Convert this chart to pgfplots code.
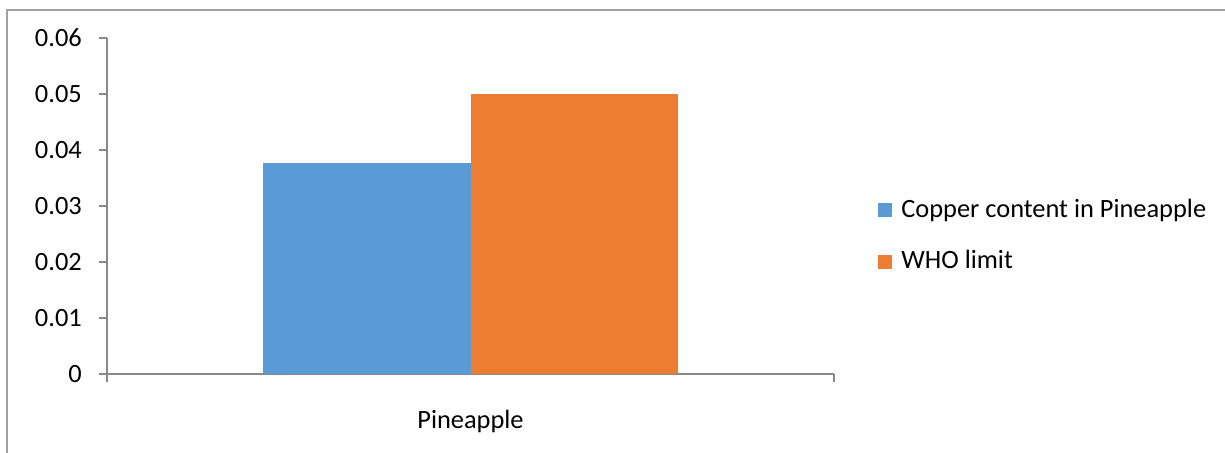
\documentclass[border=0pt]{standalone}
\usepackage{pgfplots}
\pgfplotsset{compat=1.18}
\usepackage{fontspec}
\setmainfont{Carlito}
\definecolor{xlblue}{HTML}{5B9BD5}
\definecolor{xlorange}{HTML}{ED7D31}
\definecolor{axgray}{HTML}{898989}
\definecolor{frgray}{HTML}{A0A0A0}
\begin{document}
\fontsize{13.2pt}{15.8pt}\selectfont
\begin{tikzpicture}
\useasboundingbox (0,0) rectangle (612.5pt,226pt);
\draw[frgray, line width=0.8pt] (3.5pt,-1pt) -- (3.5pt,221pt) -- (614pt,221pt);
\begin{axis}[
  at={(53.5pt,39pt)}, anchor=south west,
  scale only axis, width=363.5pt, height=168pt,
  xmin=-0.5, xmax=0.5, ymin=0, ymax=0.06,
  axis x line=bottom, axis y line=left,
  axis line style={-, draw=axgray, line width=1pt},
  scaled y ticks=false,
  ytick={0,0.01,0.02,0.03,0.04,0.05,0.06},
  yticklabels={0,0.01,0.02,0.03,0.04,0.05,0.06},
  /pgf/number format/assume math mode=true,
  xtick={-0.5,0.5}, xticklabels={,},
  extra x ticks={0}, extra x tick labels={Pineapple},
  extra x tick style={major tick length=0pt, tick label style={yshift=-13.5pt}},
  tick align=outside, major tick length=4pt,
  tick style={draw=axgray, line width=1pt},
  yticklabel style={xshift=-4pt},
  ybar=0pt, bar width=0.285,
  legend style={at={(1.0605,0.4107)}, anchor=west, draw=none, fill=none,
    row sep=10.5pt, inner sep=0pt},
  legend cell align=left,
  legend image code/.code={\fill[#1] (0pt,-3.5pt) rectangle (7pt,3.5pt);\path (0pt,0pt) -- (9.5pt,0pt);},
]
\addplot[fill=xlblue, draw=none] coordinates {(0,0.0377)};
\addplot[fill=xlorange, draw=none] coordinates {(0,0.05)};
\legend{Copper content in Pineapple, WHO limit}
\end{axis}
\end{tikzpicture}
\end{document}
